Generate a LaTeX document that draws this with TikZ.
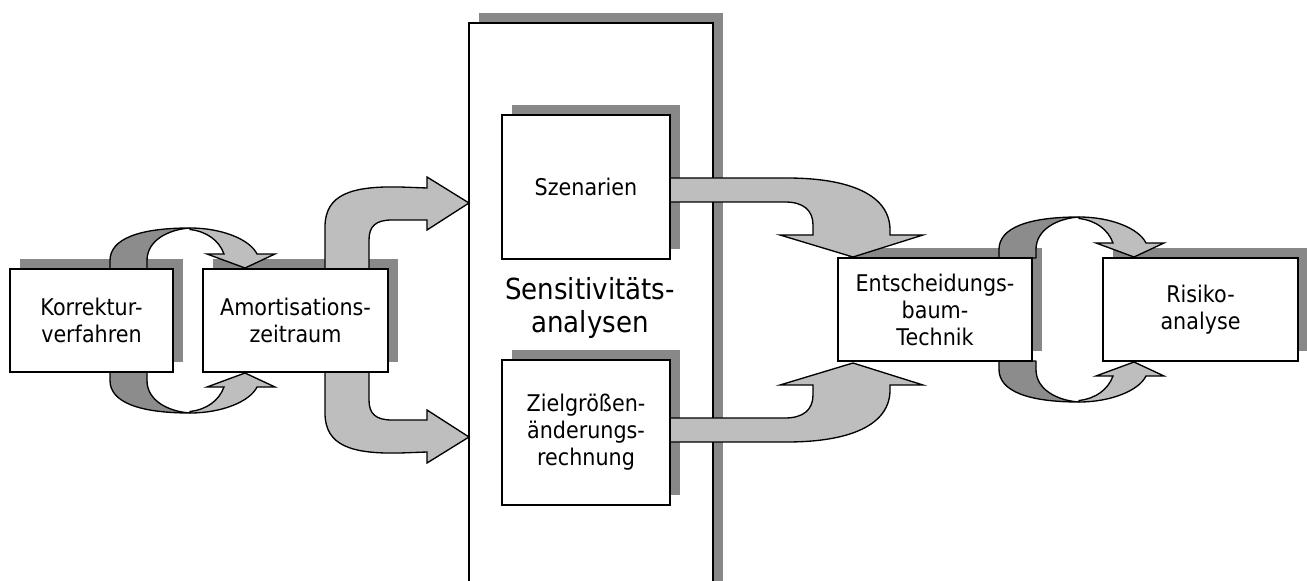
\documentclass[tikz,border=0pt]{standalone}
\usepackage{fontspec}
\setmainfont{DejaVu Sans}[FakeStretch=0.9]
\definecolor{shd}{HTML}{888888}
\definecolor{drk}{HTML}{8C8C8C}
\definecolor{lgt}{HTML}{BEBEBE}
\tikzset{
  boxst/.style={draw=black, fill=white, line width=1.3pt, align=center, inner sep=0pt,
    font=\fontsize{17.25pt}{20.25pt}\selectfont},
  bigst/.style={draw=black, fill=white, line width=1.3pt},
  bigtext/.style={align=center, inner sep=0pt, font=\fontsize{21.75pt}{24.75pt}\selectfont},
  shdst/.style={fill=shd},
  darkarr/.style={fill=drk, draw=black, line width=1pt, line join=round},
  lightarr/.style={fill=lgt, draw=black, line width=1pt, line join=miter},
}
\newcommand\shadowof[4]{\fill[shdst] ({#1+10},{#2-10}) rectangle ({#3+10},{#4-10});}
\newcommand\mkbox[6]{\node[boxst, minimum width={(#4-#2)*0.75pt}, minimum height={(#5-#3)*0.75pt}] (#1) at ({(#2+#4)/2},{(#3+#5)/2}) {#6};}
\newcommand\cyclehalf{%
  \draw[darkarr] (110,-51.5) -- (110,-60) .. controls (110,-82) and (140,-92.5) .. (190,-92.5)
     .. controls (168,-91) and (147,-80) .. (147,-60) -- (147,-51.5) -- cycle;
  \draw[lightarr] (190,-92.5) .. controls (222,-92.5) and (250,-81) .. (257,-66.5) -- (275,-66.5)
     -- (245,-52.5) -- (207,-66.5) -- (224,-66.5) .. controls (219,-80) and (207,-89) .. (190,-91) -- cycle;
}
\newcommand\forkhalf{%
  \draw[lightarr] (325,0) -- (325,-93) .. controls (325,-126) and (352,-134) .. (400,-133) -- (427,-132)
     -- (427,-143) -- (469,-117) -- (427,-90) -- (427,-100) -- (392,-100)
     .. controls (376,-100) and (369,-94) .. (369,-80) -- (369,0) -- cycle;
}
\newcommand\sarrowhalf{%
  \draw[lightarr] (660,-132) -- (787,-132) .. controls (850,-132) and (890,-115) .. (890,-80) -- (890,-75)
     -- (923,-75) -- (853,-53) -- (780,-75) -- (813,-75) -- (813,-85)
     .. controls (813,-100) and (803,-108) .. (785,-108) -- (660,-108) -- cycle;
}
\begin{document}
\begin{tikzpicture}[x=0.75pt, y=-0.75pt]
\useasboundingbox (0,0) rectangle (1307,581);
\clip (0,0) rectangle (1307,581);
% big box
\fill[shdst] (479,13) rectangle (723,650);
\draw[bigst] (469,23) rectangle (713,640);
\node[bigtext] (sens) at (590,308) {Sensitivitäts-\\analysen};
% shadows
\shadowof{10}{269}{173}{372}
\shadowof{203}{269}{388}{372}
\shadowof{502}{115}{670}{259}
\shadowof{502}{360}{670}{505}
\shadowof{838}{258}{1032}{361}
\shadowof{1103}{258}{1298}{361}
% arrows
\begin{scope}[shift={(0,320.5)}] \cyclehalf \end{scope}
\begin{scope}[shift={(0,320.5)}, yscale=-1] \cyclehalf \end{scope}
\begin{scope}[shift={(889,309.5)}] \cyclehalf \end{scope}
\begin{scope}[shift={(889,309.5)}, yscale=-1] \cyclehalf \end{scope}
\begin{scope}[shift={(0,320)}] \forkhalf \end{scope}
\begin{scope}[shift={(0,320)}, yscale=-1] \forkhalf \end{scope}
\begin{scope}[shift={(0,310)}] \sarrowhalf \end{scope}
\begin{scope}[shift={(0,310)}, yscale=-1] \sarrowhalf \end{scope}
% boxes
\mkbox{korr}{10}{269}{173}{372}{Korrektur-\\verfahren}
\mkbox{amort}{203}{269}{388}{372}{Amortisations-\\zeitraum}
\mkbox{szen}{502}{115}{670}{259}{Szenarien}
\mkbox{ziel}{502}{360}{670}{505}{Zielgrößen-\\änderungs-\\rechnung}
\mkbox{ent}{838}{258}{1032}{361}{Entscheidungs-\\baum-\\Technik}
\mkbox{risk}{1103}{258}{1298}{361}{Risiko-\\analyse}
\end{tikzpicture}
\end{document}
